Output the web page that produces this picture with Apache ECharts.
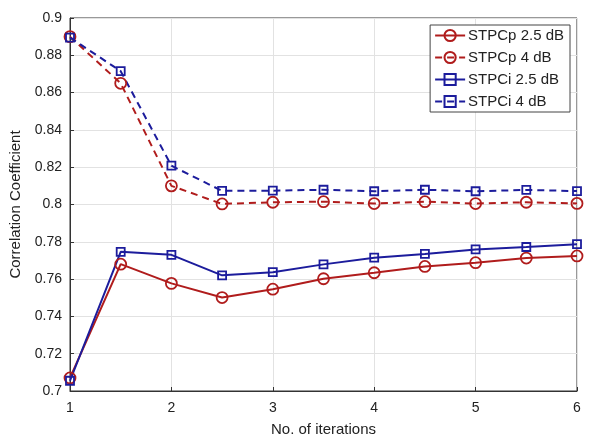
<!DOCTYPE html>
<html><head><meta charset="utf-8">
<script src="https://cdn.jsdelivr.net/npm/echarts@6/dist/echarts.min.js"></script>
<style>html,body{margin:0;padding:0;background:#fff}#c{width:590px;height:442px}</style>
</head><body><div id="c"></div>
<script>
const iterations = [1, 1.5, 2, 2.5, 3, 3.5, 4, 4.5, 5, 5.5, 6];
const stpcp25 = [0.707, 0.768, 0.7577, 0.7501, 0.7546, 0.7602, 0.7634, 0.7668, 0.7688, 0.7713, 0.7724];
const stpcp4  = [0.890, 0.865, 0.810, 0.8003, 0.8012, 0.8015, 0.8005, 0.8015, 0.8005, 0.8012, 0.8006];
const stpci25 = [0.7055, 0.7746, 0.773, 0.762, 0.7637, 0.7679, 0.7715, 0.7735, 0.7759, 0.7772, 0.7787];
const stpci4  = [0.8895, 0.8715, 0.8208, 0.8073, 0.8074, 0.8079, 0.8071, 0.8079, 0.8071, 0.8078, 0.8072];
const yTicks = [0.7, 0.72, 0.74, 0.76, 0.78, 0.8, 0.82, 0.84, 0.86, 0.88, 0.9];
const names = ['STPCp 2.5 dB', 'STPCp 4 dB', 'STPCi 2.5 dB', 'STPCi 4 dB'];

const RED = '#b01c1c', BLUE = '#1c1c9c';
const font = 'Liberation Sans, Arial, sans-serif';
function mk(name, vals, color, dashed, symbol, size) {
  return {
    name, type: 'line', data: iterations.map((x, i) => [x, vals[i]]),
    symbol, symbolSize: size, showAllSymbol: true,
    lineStyle: { color, width: 2, type: dashed ? [7, 5] : 'solid' },
    itemStyle: { color: 'rgba(255,255,255,0)', borderColor: color, borderWidth: 1.8 },
    emphasis: { disabled: true }, animation: false, z: dashed ? 3 : 4
  };
}
const chart = echarts.init(document.getElementById('c'));
chart.setOption({
  animation: false,
  grid: { left: 70, right: 13, top: 18, bottom: 49, show: true, borderColor: '#333', borderWidth: 1 },
  xAxis: {
    type: 'value', min: 1, max: 6, interval: 1,
    name: 'No. of iterations', nameLocation: 'middle', nameGap: 31,
    nameTextStyle: { fontFamily: font, fontSize: 15, color: '#222' },
    axisLine: { lineStyle: { color: '#333' } },
    axisTick: { inside: true, length: 4, lineStyle: { color: '#333' } },
    axisLabel: { fontFamily: font, fontSize: 14, color: '#222', margin: 10 },
    splitLine: { show: true, lineStyle: { color: '#e2e2e2' } }
  },
  yAxis: {
    type: 'value', min: 0.7, max: 0.9, interval: 0.02,
    name: 'Correlation Coefficient', nameLocation: 'middle', nameGap: 46,
    nameTextStyle: { fontFamily: font, fontSize: 15, color: '#222' },
    axisLine: { show: true, lineStyle: { color: '#333' } },
    axisTick: { show: true, inside: true, length: 4, lineStyle: { color: '#333' } },
    axisLabel: { fontFamily: font, fontSize: 14, color: '#222', margin: 8,
      formatter: v => { const t = yTicks.find(k => Math.abs(k - v) < 1e-9); return t === undefined ? '' : String(+t.toFixed(2)); } },
    splitLine: { show: true, lineStyle: { color: '#e2e2e2' } }
  },
  legend: {
    right: 20, top: 25, orient: 'vertical', itemGap: 7,
    itemWidth: 30, itemHeight: 14,
    backgroundColor: '#fff', borderColor: '#444', borderWidth: 1, padding: [3, 6, 3, 4],
    textStyle: { fontFamily: font, fontSize: 15, color: '#222', padding: [0, 0, 0, -2] },
    data: names
  },
  series: [
    mk(names[0], stpcp25, RED, false, 'circle', 11),
    mk(names[1], stpcp4, RED, true, 'circle', 11),
    mk(names[2], stpci25, BLUE, false, 'rect', 8),
    mk(names[3], stpci4, BLUE, true, 'rect', 8)
  ]
});
</script></body></html>
